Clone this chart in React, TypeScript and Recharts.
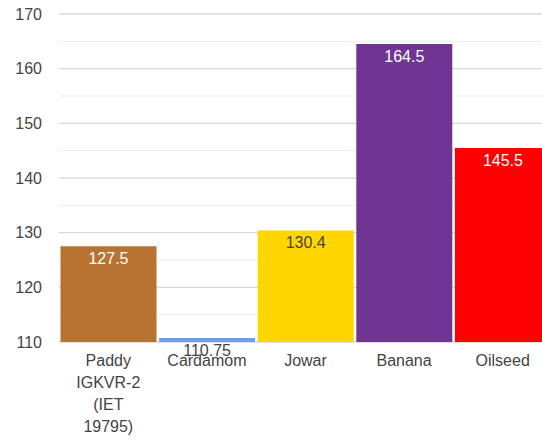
import React from 'react';
import { BarChart, Bar, XAxis, YAxis, CartesianGrid, Cell, LabelList } from 'recharts';

const categories = ['Paddy IGKVR-2 (IET 19795)', 'Cardamom', 'Jowar', 'Banana', 'Oilseed'];
const values = [127.5, 110.75, 130.4, 164.5, 145.5];
const tickLabels = [['Paddy', 'IGKVR-2', '(IET', '19795)'], ['Cardamom'], ['Jowar'], ['Banana'], ['Oilseed']];
const barColors = ['#b87333', '#6d9eeb', '#ffd600', '#6f3593', '#ff0000'];
const labelColors = ['#ffffff', '#444444', '#444444', '#ffffff', '#ffffff'];
const majorTicks = [110, 120, 130, 140, 150, 160, 170];
const minorTicks = [115, 125, 135, 145, 155, 165];

const data = categories.map((c, i) => ({ name: c, value: values[i] }));

const FONT = 'Arial, "Liberation Sans", sans-serif';

const XTick = (props: any) => {
  const { x, y, payload } = props;
  const lines = tickLabels[payload.index] || [String(payload.value)];
  return (
    <text x={x} y={y} textAnchor="middle" fill="#444" fontSize={16} fontFamily={FONT}>
      {lines.map((l: string, i: number) => (
        <tspan key={i} x={x} dy={i === 0 ? 16 : 22}>{l}</tspan>
      ))}
    </text>
  );
};

const BarLabel = (props: any) => {
  const { x, y, width, value, index } = props;
  return (
    <text x={x + width / 2} y={y + 18} textAnchor="middle" fill={labelColors[index]} fontSize={16} fontFamily={FONT}>
      {value}
    </text>
  );
};

export default function App() {
  return (
    <div style={{ position: 'absolute', left: 0, top: 0, width: 542, height: 440, overflow: 'hidden', background: '#fff' }}>
      <BarChart
        width={560}
        height={440}
        data={data}
        margin={{ top: 14, right: 8, bottom: 0, left: 0 }}
        barCategoryGap={1.5}
        style={{ fontFamily: FONT }}
      >
        <YAxis yAxisId="minor" domain={[110, 170]} ticks={minorTicks} hide type="number" allowDataOverflow />
        <CartesianGrid yAxisId="minor" vertical={false} stroke="#ebebeb" strokeWidth={1} />
        <CartesianGrid vertical={false} stroke="#cfcfcf" strokeWidth={1} />
        <XAxis
          dataKey="name"
          axisLine={false}
          tickLine={false}
          interval={0}
          height={98}
          tick={<XTick />}
        />
        <YAxis
          domain={[110, 170]}
          ticks={majorTicks}
          type="number"
          allowDataOverflow
          axisLine={false}
          tickLine={false}
          width={59}
          tickMargin={11}
          tick={{ fill: '#444', fontSize: 16, fontFamily: FONT }}
        />
        <Bar dataKey="value" isAnimationActive={false}>
          {data.map((d, i) => (
            <Cell key={i} fill={barColors[i]} />
          ))}
          <LabelList dataKey="value" content={<BarLabel />} />
        </Bar>
      </BarChart>
    </div>
  );
}
